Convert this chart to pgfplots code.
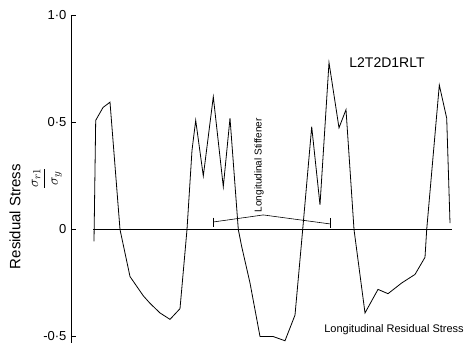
\documentclass[border=0pt]{standalone}
\usepackage{pgfplots}
\pgfplotsset{compat=1.18}
\usepackage{fontspec}
\setmainfont{Liberation Sans}
\begin{document}
\begin{tikzpicture}
\begin{axis}[
  at={(0,0)}, anchor=origin,
  scale only axis,
  width=381pt, height=327.4pt,
  xmin=71, xmax=452,
  ymin=-0.53, ymax=1.0,
  axis x line=none,
  axis y line=left,
  axis line style={-, line width=0.7pt},
  ytick={-0.5,0,0.5,1},
  yticklabels={-0·5, 0, 0·5, 1·0},
  tick align=inside,
  major tick length=5pt,
  tick style={line width=0.6pt, black},
  yticklabel style={font=\fontsize{13}{13}\selectfont, xshift=-1pt},
  clip=false,
]
% zero line
\addplot[black, line width=1.4pt] coordinates {(93,0) (452,0)};
% residual stress curve
\addplot[black, line width=0.8pt] coordinates {
(94,-0.055) (95.7,0.51) (103,0.57) (110,0.595) (120,0) (130,-0.22)
(143.3,-0.31) (150,-0.345) (160,-0.39) (170,-0.42) (180,-0.37) (187,0)
(192,0.37) (195.7,0.51) (203.3,0.25) (213.3,0.62) (223.3,0.20) (230,0.52)
(238.3,0) (241.7,-0.08) (250,-0.25) (260,-0.50) (273,-0.50) (285,-0.52)
(295,-0.40) (302.7,0) (311.7,0.48) (320,0.115) (329,0.78) (339,0.475)
(346,0.56) (354,0) (365,-0.39) (378,-0.28) (388,-0.30) (401.7,-0.25)
(415,-0.21) (425,-0.13) (426.7,0) (439.3,0.675) (446.7,0.52) (450,0.03)
};
% stiffener bracket
\addplot[black, line width=0.6pt] coordinates {(213.3,0.035) (263.3,0.068) (330,0.026)};
\addplot[black, line width=0.8pt] coordinates {(213.3,0.056) (213.3,0.012)};
\addplot[black, line width=0.8pt] coordinates {(330,0.054) (330,0.008)};
\node[rotate=90, anchor=west, font=\fontsize{10}{10}\selectfont, inner sep=1pt] at (axis cs:259,0.075) {Longitudinal Stiffener};
\node[font=\fontsize{14}{14}\selectfont] at (axis cs:387,0.78) {L2T2D1RLT};
\node[font=\fontsize{11}{11}\selectfont] at (axis cs:394,-0.47) {Longitudinal Residual Stress};
\node[rotate=90, font=\fontsize{15}{15}\selectfont] at (axis cs:15,0.06) {Residual Stress};
\node[rotate=90, font=\fontsize{15}{15}\selectfont] at (axis cs:47,0.24) {$\displaystyle\frac{\sigma_{r1}}{\sigma_{y}}$};
\coordinate (bl) at (axis cs:0,-0.535);
\coordinate (tr) at (axis cs:470,1.0724);
\end{axis}
\pgfresetboundingbox
\path (bl) rectangle (tr);
\end{tikzpicture}
\end{document}
